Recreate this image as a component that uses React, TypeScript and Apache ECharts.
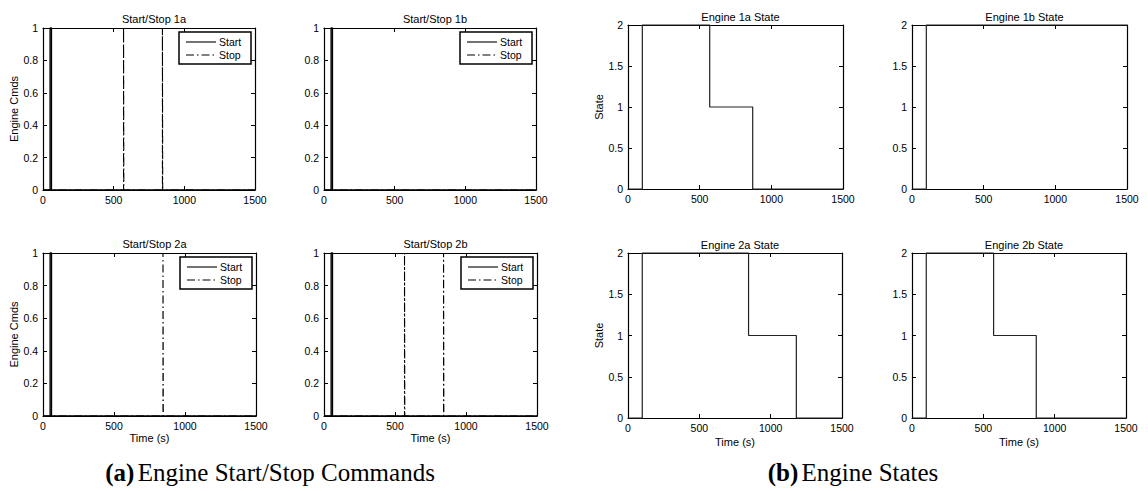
import React, { useEffect, useRef } from "react";
import * as echarts from "echarts";

// Time axis shared by every panel (seconds)
const TIME_MIN = 0;
const TIME_MAX = 1500;
const TIME_STEP = 500;

// Command pulses: [time (s), command level]
const start1a = [[0, 0], [50, 0], [50, 1], [60, 1], [60, 0], [1500, 0]];
const stop1a = [[0, 0], [570, 0], [570, 1], [572, 1], [572, 0], [845, 0], [845, 1], [847, 1], [847, 0], [1500, 0]];
const start1b = [[0, 0], [50, 0], [50, 1], [60, 1], [60, 0], [1500, 0]];
const stop1b = [[0, 0], [1500, 0]];
const start2a = [[0, 0], [50, 0], [50, 1], [60, 1], [60, 0], [1500, 0]];
const stop2a = [[0, 0], [845, 0], [845, 1], [847, 1], [847, 0], [1500, 0]];
const start2b = [[0, 0], [50, 0], [50, 1], [60, 1], [60, 0], [1500, 0]];
const stop2b = [[0, 0], [567, 0], [567, 1], [569, 1], [569, 0], [842, 0], [842, 1], [844, 1], [844, 0], [1500, 0]];

// Engine state traces: [time (s), state]
const state1a = [[0, 0], [100, 0], [100, 2], [570, 2], [570, 1], [870, 1], [870, 0], [1500, 0]];
const state1b = [[0, 0], [100, 0], [100, 2], [1500, 2]];
const state2a = [[0, 0], [100, 0], [100, 2], [845, 2], [845, 1], [1180, 1], [1180, 0], [1500, 0]];
const state2b = [[0, 0], [100, 0], [100, 2], [572, 2], [572, 1], [871, 1], [871, 0], [1500, 0]];

const cmdTitles = ["Start/Stop 1a", "Start/Stop 1b", "Start/Stop 2a", "Start/Stop 2b"];
const stateTitles = ["Engine 1a State", "Engine 1b State", "Engine 2a State", "Engine 2b State"];
const legendNames = ["Start", "Stop"];
const captionA = ["(a)", "Engine Start/Stop Commands"];
const captionB = ["(b)", "Engine States"];

const SANS = "'Liberation Sans', Arial, Helvetica, sans-serif";
const SERIF = "'Liberation Serif', 'Times New Roman', serif";

// Panel frames in pixels: left, top, width, height
const panels = [
  { l: 43, t: 28, w: 212, h: 162 },
  { l: 324, t: 28, w: 212, h: 162 },
  { l: 43, t: 253, w: 213, h: 163 },
  { l: 324, t: 253, w: 213, h: 163 },
  { l: 628, t: 25, w: 215, h: 164 },
  { l: 912, t: 25, w: 215, h: 164 },
  { l: 628, t: 253, w: 214, h: 165 },
  { l: 912, t: 253, w: 214, h: 165 },
];

const DASH_DOT = [8, 3, 1.5, 3];

const fmt = (v: number) => String(parseFloat(Number(v).toFixed(3)));

// Boxed legend drawn in the upper-right corner of a command panel
function legendBox(p: { l: number; t: number; w: number; h: number }) {
  const bw = 72;
  const bh = 32;
  const x0 = p.l + p.w - 4 - bw;
  const y0 = p.t + 4;
  const rowY = [y0 + 10, y0 + 23];
  const els: any[] = [
    {
      type: "rect", z: 100,
      shape: { x: x0, y: y0, width: bw, height: bh },
      style: { fill: "#fff", stroke: "#000", lineWidth: 1.5 },
    },
  ];
  legendNames.forEach((name, k) => {
    els.push({
      type: "line", z: 101,
      shape: { x1: x0 + 7, y1: rowY[k], x2: x0 + 37, y2: rowY[k] },
      style: { stroke: "#000", lineWidth: 1.1, lineDash: k === 0 ? null : DASH_DOT },
    });
    els.push({
      type: "text", z: 101, x: x0 + 40, y: rowY[k],
      style: {
        text: name, fill: "#000", fontSize: 10.5, fontFamily: SANS,
        textAlign: "left", textVerticalAlign: "middle",
      },
    });
  });
  return els;
}

function buildOption() {
  const grid: any[] = [];
  const xAxis: any[] = [];
  const yAxis: any[] = [];
  const series: any[] = [];
  const title: any[] = [];
  const graphic: any[] = [];

  const tick = { show: true, inside: true, length: 4, lineStyle: { color: "#000", width: 1 } };
  const line = { show: true, onZero: false, lineStyle: { color: "#000", width: 1.2 } };
  const label = { color: "#000", fontSize: 10.5, fontFamily: SANS, formatter: fmt };

  panels.forEach((p, i) => {
    const isState = i >= 4;
    const isLeftCol = i % 2 === 0;
    const isBottom = i === 2 || i === 3 || i === 6 || i === 7;
    grid.push({ left: p.l, top: p.t, width: p.w, height: p.h, show: false });
    const yMax = isState ? 2 : 1;
    const yStep = isState ? 0.5 : 0.2;
    xAxis.push({
      type: "value", gridIndex: i, min: TIME_MIN, max: TIME_MAX, interval: TIME_STEP,
      axisLine: line, axisTick: tick, splitLine: { show: false },
      axisLabel: { ...label, margin: 4 },
      name: isBottom ? "Time (s)" : "", nameLocation: "middle", nameGap: isState ? 18 : 16,
      nameTextStyle: { color: "#000", fontSize: 11, fontFamily: SANS },
    });
    xAxis.push({
      type: "value", gridIndex: i, position: "top", min: TIME_MIN, max: TIME_MAX, interval: TIME_STEP,
      axisLine: line, axisTick: tick, splitLine: { show: false }, axisLabel: { show: false },
    });
    yAxis.push({
      type: "value", gridIndex: i, min: 0, max: yMax, interval: yStep,
      axisLine: line, axisTick: tick, splitLine: { show: false },
      axisLabel: { ...label, margin: 5 },
      name: isLeftCol ? (isState ? "State" : "Engine Cmds") : "",
      nameLocation: "middle", nameRotate: 90, nameGap: isState ? 24 : 23,
      nameTextStyle: { color: "#000", fontSize: 11, fontFamily: SANS },
    });
    yAxis.push({
      type: "value", gridIndex: i, position: "right", min: 0, max: yMax, interval: yStep,
      axisLine: line, axisTick: tick, splitLine: { show: false }, axisLabel: { show: false },
    });
    const titleText = isState ? stateTitles[i - 4] : cmdTitles[i];
    title.push({
      text: titleText, left: p.l + p.w / 2, textAlign: "center",
      top: p.t - (isState ? 19 : 20),
      textStyle: { color: "#000", fontSize: 11, fontWeight: "normal", fontFamily: SANS },
    });
  });

  const cmdSets = [
    [start1a, stop1a],
    [start1b, stop1b],
    [start2a, stop2a],
    [start2b, stop2b],
  ];
  cmdSets.forEach(([st, sp], i) => {
    series.push({
      type: "line", name: `${legendNames[1]} ${i}`, xAxisIndex: 2 * i, yAxisIndex: 2 * i, data: sp,
      showSymbol: false, symbol: "none", clip: false,
      lineStyle: { color: "#000", width: 1.1, type: DASH_DOT },
    });
    series.push({
      type: "line", name: `${legendNames[0]} ${i}`, xAxisIndex: 2 * i, yAxisIndex: 2 * i, data: st,
      showSymbol: false, symbol: "none", clip: false,
      lineStyle: { color: "#000", width: 1.3 },
    });
    graphic.push(...legendBox(panels[i]));
  });

  [state1a, state1b, state2a, state2b].forEach((s, k) => {
    const i = k + 4;
    series.push({
      type: "line", name: `State ${k}`, xAxisIndex: 2 * i, yAxisIndex: 2 * i, data: s,
      showSymbol: false, symbol: "none", clip: false,
      lineStyle: { color: "#222", width: 1.2 },
    });
  });

  const captionRich = {
    b: { fontFamily: SERIF, fontSize: 25, fontWeight: "bold", fill: "#000" },
    n: { fontFamily: SERIF, fontSize: 25, fill: "#000" },
  };
  graphic.push(
    {
      type: "text", x: 270, y: 472,
      style: { text: `{b|${captionA[0]}} {n|${captionA[1]}}`, rich: captionRich, textAlign: "center", textVerticalAlign: "middle" },
    },
    {
      type: "text", x: 853, y: 472,
      style: { text: `{b|${captionB[0]}} {n|${captionB[1]}}`, rich: captionRich, textAlign: "center", textVerticalAlign: "middle" },
    }
  );

  return { animation: false, backgroundColor: "#fff", grid, xAxis, yAxis, series, title, graphic };
}

export default function App() {
  const ref = useRef<HTMLDivElement>(null);
  useEffect(() => {
    if (!ref.current) return;
    const chart = echarts.init(ref.current, undefined, { renderer: "svg" });
    chart.setOption(buildOption() as any);
    return () => chart.dispose();
  }, []);
  return <div ref={ref} style={{ position: "absolute", left: 0, top: 0, width: 1148, height: 491, background: "#fff" }} />;
}
